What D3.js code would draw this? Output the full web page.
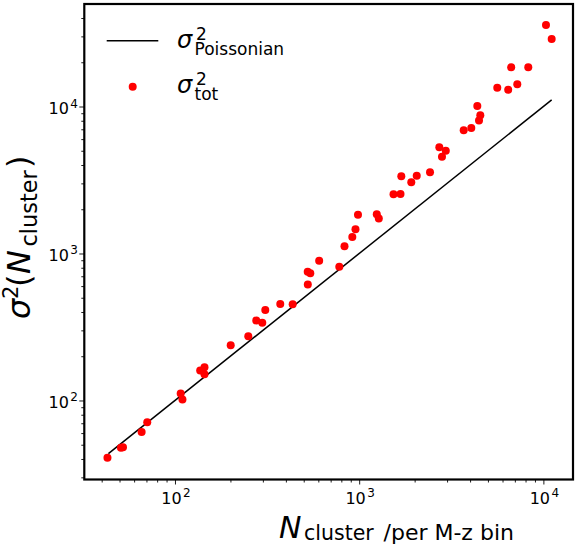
<!DOCTYPE html>
<html>
<head>
<meta charset="utf-8">
<script src="https://cdn.jsdelivr.net/npm/d3@7"></script>
<style>
  body { margin: 0; background: #fff; }
  text { font-family: "DejaVu Sans", sans-serif; fill: #000; }
</style>
</head>
<body>
<div id="chart"></div>
<script>
// cluster counts per M-z bin and their total variance
const nCluster = [43.0, 50.9, 52.2, 65.9, 70.7, 107.4, 109.8, 137.0, 144.6, 144.6,
  200.7, 250.0, 276.3, 297.8, 309.2, 372.9, 435.5, 525.4, 542.7, 526.1,
  606.4, 779.8, 832.2, 917.6, 954.8, 985.1, 1246, 1278, 1536, 1676,
  1693, 1918, 2053, 2424, 2723, 2952, 2815, 3693, 4061, 4378,
  4545, 4472, 5619, 6441, 7216, 6687, 8279, 10330, 11090];
const sigmaTot = [40.8, 47.7, 48.0, 61.0, 71.1, 111.6, 101.6, 160.0, 168.2, 151.0,
  237.4, 273.8, 350.2, 338.4, 412.7, 453.4, 451.9, 751.9, 734.5, 615.3,
  891.9, 813.5, 1121, 1295, 1461, 1836, 1851, 1730, 2527, 2540,
  3357, 3055, 3383, 3574, 5285, 5003, 4548, 6889, 7141, 10080,
  8711, 8033, 13400, 13010, 14160, 18480, 18500, 35850, 28790];
// Poissonian variance (sigma^2 = N), endpoints
const poissonN = [43.5, 11090];
const poissonVar = [43.5, 11090];
const xMajor = [1e2, 1e3, 1e4];
const yMajor = [1e2, 1e3, 1e4];

const W = 577, H = 548;
const mLeft = 84.3, mRight = 573, mTop = 4, mBottom = 479.5;

const svg = d3.select("#chart").append("svg")
  .attr("width", W).attr("height", H);

const x = d3.scaleLog().domain([32.19, 14480]).range([mLeft, mRight]);
const y = d3.scaleLog().domain([29.0, 49820]).range([mBottom, mTop]);

// minor ticks 2..9 per decade inside the domain
function minors(scale) {
  const [a, b] = scale.domain();
  const out = [];
  for (let e = Math.floor(Math.log10(a)); e <= Math.ceil(Math.log10(b)); e++) {
    for (let m = 2; m <= 9; m++) {
      const v = m * Math.pow(10, e);
      if (v >= a && v <= b) out.push(v);
    }
  }
  return out;
}

function powerLabel(t, d) {
  t.append("tspan").style("font-size", "16px").text("10");
  t.append("tspan").style("font-size", "12px").attr("dx", 1.5).attr("dy", -6.5)
    .text(Math.round(Math.log10(d)));
}

// x axis
const gx = svg.append("g").attr("transform", `translate(0,${mBottom})`);
gx.append("g").call(d3.axisBottom(x).tickValues(minors(x)).tickSize(3).tickFormat(""));
gx.append("g").call(d3.axisBottom(x).tickValues(xMajor).tickSize(5).tickFormat(""));
gx.selectAll(".domain").remove();
gx.selectAll(".tick line").attr("stroke", "#000").attr("stroke-width", 0.9);
gx.selectAll(".tick text").remove();
svg.append("g").selectAll("text")
  .data(xMajor)
  .join("text")
  .attr("x", d => x(d) + 1)
  .attr("y", mBottom + 24)
  .attr("text-anchor", "middle")
  .each(function (d) { powerLabel(d3.select(this), d); });

// y axis
const gy = svg.append("g").attr("transform", `translate(${mLeft},0)`);
gy.append("g").call(d3.axisLeft(y).tickValues(minors(y)).tickSize(3).tickFormat(""));
gy.append("g").call(d3.axisLeft(y).tickValues(yMajor).tickSize(5).tickFormat(""));
gy.selectAll(".domain").remove();
gy.selectAll(".tick line").attr("stroke", "#000").attr("stroke-width", 0.9);
gy.selectAll(".tick text").remove();
svg.append("g").selectAll("text")
  .data(yMajor)
  .join("text")
  .attr("x", 78)
  .attr("y", d => y(d) + 7.5)
  .attr("text-anchor", "end")
  .each(function (d) { powerLabel(d3.select(this), d); });

// Poissonian line
const line = d3.line().x(d => x(d[0])).y(d => y(d[1]));
svg.append("path")
  .datum(d3.zip(poissonN, poissonVar))
  .attr("d", line)
  .attr("fill", "none")
  .attr("stroke", "#000")
  .attr("stroke-width", 1.5);

// total variance points
svg.append("g").selectAll("circle")
  .data(d3.zip(nCluster, sigmaTot))
  .join("circle")
  .attr("cx", d => x(d[0]))
  .attr("cy", d => y(d[1]))
  .attr("r", 4)
  .attr("fill", "#ff0000");

// frame
svg.append("rect")
  .attr("x", mLeft).attr("y", mTop)
  .attr("width", mRight - mLeft).attr("height", mBottom - mTop)
  .attr("fill", "none").attr("stroke", "#000").attr("stroke-width", 2.2);

// legend
const lg = svg.append("g");
lg.append("line").attr("x1", 106.7).attr("x2", 158.3).attr("y1", 40.7).attr("y2", 40.7)
  .attr("stroke", "#000").attr("stroke-width", 1.5);
lg.append("circle").attr("cx", 132.7).attr("cy", 86.7).attr("r", 4).attr("fill", "#ff0000");

function legendLabel(yBase, sub) {
  const t = lg.append("text");
  t.append("tspan").attr("x", 177).attr("y", yBase)
    .style("font-size", "24px").style("font-style", "italic").text("σ");
  t.append("tspan").attr("x", 196).attr("y", yBase - 8)
    .style("font-size", "17px").text("2");
  t.append("tspan").attr("x", 194.5).attr("y", yBase + 7)
    .style("font-size", "17px").text(sub);
}
legendLabel(48, "Poissonian");
legendLabel(93, "tot");

// x label
const xl = svg.append("text");
xl.append("tspan").attr("x", 279).attr("y", 537.5)
  .style("font-size", "30px").style("font-style", "italic").text("N");
xl.append("tspan").attr("x", 304).attr("y", 540)
  .style("font-size", "20.5px").text("cluster");
xl.append("tspan").attr("x", 383.5).attr("y", 540)
  .style("font-size", "22px").text("/per M-z bin");

// y label (rotated, positions measured along the text direction)
const yl = svg.append("text")
  .attr("transform", "translate(0,319) rotate(-90)");
yl.append("tspan").attr("x", 0).attr("y", 30)
  .style("font-size", "32px").style("font-style", "italic").text("σ");
yl.append("tspan").attr("x", 20).attr("y", 17.5)
  .style("font-size", "21px").text("2");
yl.append("tspan").attr("x", 32).attr("y", 30)
  .style("font-size", "32px").text("(");
yl.append("tspan").attr("x", 45).attr("y", 30)
  .style("font-size", "32px").style("font-style", "italic").text("N");
yl.append("tspan").attr("x", 72.5).attr("y", 36.5)
  .style("font-size", "22.4px").text("cluster");
yl.append("tspan").attr("x", 151).attr("y", 30)
  .style("font-size", "32px").text(")");
</script>
</body>
</html>
